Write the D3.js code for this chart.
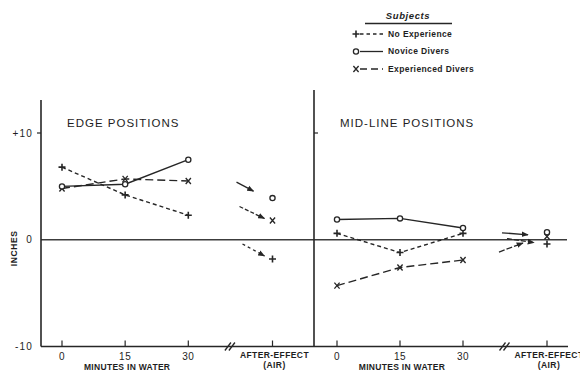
<!DOCTYPE html>
<html>
<head>
<meta charset="utf-8">
<script src="https://cdn.jsdelivr.net/npm/d3@7"></script>
<style>
  html, body { margin: 0; padding: 0; background: #fff; }
  svg { display: block; }
  text { font-family: "Liberation Sans", Arial, sans-serif; fill: #1e1e1e; }
</style>
</head>
<body>
<svg id="chart" width="580" height="373"></svg>
<script>
// Time points (minutes in water); the after-effect reading sits past a broken axis
const minutes = [0, 15, 30];
const afterEffectPos = 50;
const breakPos = 40;

// Edge positions (inches)
const edgeNoExperience  = [6.8, 4.2, 2.3];
const edgeNovice        = [5.0, 5.2, 7.5];
const edgeExperienced   = [4.8, 5.7, 5.5];
const edgeAfter         = { none: -1.8, novice: 3.9, experienced: 1.8 };

// Mid-line positions (inches)
const midNoExperience   = [0.6, -1.2, 0.6];
const midNovice         = [1.9, 2.0, 1.1];
const midExperienced    = [-4.3, -2.6, -1.9];
const midAfter          = { none: -0.4, novice: 0.7, experienced: 0.3 };

const yTicks = [-10, 0, 10];
const yTickLabels = ["-10", "0", "+10"];
const legendLabels = ["No Experience", "Novice Divers", "Experienced Divers"];

const svg = d3.select("#chart");
const ink = "#262626";

const y = d3.scaleLinear().domain([-10, 10]).range([346.5, 133]);

const panels = [
  { title: "EDGE POSITIONS", titleX: 67, axisX: 41, axisTop: 100,
    x: d3.scaleLinear().domain([0, afterEffectPos]).range([62, 272.5]),
    series: { none: edgeNoExperience, novice: edgeNovice, experienced: edgeExperienced },
    after: edgeAfter,
    arrows: [ { key: "novice", dash: null, d: [-36, -16, -19, -7] },
              { key: "experienced", dash: "4,2", d: [-33, -14, -8, -2] },
              { key: "none", dash: "3,3", d: [-30, -15, -8, -3] } ] },
  { title: "MID-LINE POSITIONS", titleX: 340, axisX: 314, axisTop: 90,
    x: d3.scaleLinear().domain([0, afterEffectPos]).range([337, 547]),
    series: { none: midNoExperience, novice: midNovice, experienced: midExperienced },
    after: midAfter,
    arrows: [ { key: "novice", dash: null, d: [-45, 0.5, -19, 2.5] },
              { key: "experienced", dash: "5,2", d: [-40, 2, -13, 6] },
              { key: "none", dash: "6,2", d: [-48, 8, -24, -1] } ] }
];

const styles = {
  none:        { dash: "4,3", marker: "plus" },
  novice:      { dash: null,  marker: "circle" },
  experienced: { dash: "8,4", marker: "cross" }
};

svg.append("defs").append("marker")
  .attr("id", "arrowhead").attr("viewBox", "0 0 10 10")
  .attr("refX", 9).attr("refY", 5)
  .attr("markerWidth", 7).attr("markerHeight", 7)
  .attr("markerUnits", "userSpaceOnUse")
  .attr("orient", "auto")
  .append("path").attr("d", "M0,1 L10,5 L0,9 Z").attr("fill", ink);

function drawMarker(g, type, cx, cy) {
  if (type === "plus") {
    g.append("path").attr("d", `M${cx - 3.5},${cy} H${cx + 3.5} M${cx},${cy - 3.5} V${cy + 3.5}`)
      .attr("stroke", ink).attr("stroke-width", 1.6).attr("fill", "none");
  } else if (type === "circle") {
    g.append("circle").attr("cx", cx).attr("cy", cy).attr("r", 2.6)
      .attr("stroke", ink).attr("stroke-width", 1.3).attr("fill", "#fff");
  } else {
    g.append("path").attr("d", `M${cx - 2.6},${cy - 3} L${cx + 2.6},${cy + 3} M${cx + 2.6},${cy - 3} L${cx - 2.6},${cy + 3}`)
      .attr("stroke", ink).attr("stroke-width", 1.3).attr("fill", "none");
  }
}

// Shared horizontal axis and zero line across both panels
svg.append("line").attr("x1", 41).attr("x2", 568).attr("y1", y(-10)).attr("y2", y(-10))
  .attr("stroke", ink).attr("stroke-width", 1.6);
svg.append("line").attr("x1", 41).attr("x2", 567).attr("y1", y(0)).attr("y2", y(0))
  .attr("stroke", "#3c3c3c").attr("stroke-width", 1.3);

// Y axis labels (left side only)
const yAxisG = svg.append("g");
yTicks.forEach((t, i) => {
  yAxisG.append("text").attr("x", 33).attr("y", y(t)).attr("dy", "0.36em")
    .attr("text-anchor", "end").attr("font-size", 10).attr("letter-spacing", 1.2)
    .text(yTickLabels[i]);
});
svg.append("text").attr("transform", `translate(17,${y(-0.8)}) rotate(-90)`)
  .attr("text-anchor", "middle").attr("font-size", 8.5).attr("font-weight", "bold")
  .attr("letter-spacing", 0.6).text("INCHES");

panels.forEach((p, pi) => {
  const g = svg.append("g");
  const x = p.x;

  // vertical axis with a tick at +10
  g.append("line").attr("x1", p.axisX).attr("x2", p.axisX).attr("y1", p.axisTop).attr("y2", y(-10))
    .attr("stroke", ink).attr("stroke-width", 1.6);
  if (pi === 0) {
    g.append("line").attr("x1", p.axisX - 4).attr("x2", p.axisX).attr("y1", y(10)).attr("y2", y(10))
      .attr("stroke", ink).attr("stroke-width", 1.2);
  } else {
    g.append("line").attr("x1", p.axisX).attr("x2", p.axisX + 4).attr("y1", y(10)).attr("y2", y(10))
      .attr("stroke", ink).attr("stroke-width", 1.2);
  }

  // x ticks
  minutes.concat([afterEffectPos]).forEach(m => {
    g.append("line").attr("x1", x(m)).attr("x2", x(m)).attr("y1", y(-10) - 6).attr("y2", y(-10))
      .attr("stroke", ink).attr("stroke-width", 1.2);
  });
  minutes.forEach(m => {
    g.append("text").attr("x", x(m)).attr("y", 360).attr("text-anchor", "middle")
      .attr("font-size", 10).attr("letter-spacing", 0.5).text(m);
  });
  g.append("text").attr("x", x(15) + 2).attr("y", 370).attr("text-anchor", "middle")
    .attr("font-size", 8.5).attr("font-weight", "bold").attr("letter-spacing", 0.3)
    .text("MINUTES IN WATER");
  g.append("text").attr("x", x(afterEffectPos) + 2).attr("y", 358).attr("text-anchor", "middle")
    .attr("font-size", 8.5).attr("font-weight", "bold").attr("letter-spacing", 0.4)
    .text("AFTER-EFFECT");
  g.append("text").attr("x", x(afterEffectPos) + 2).attr("y", 368).attr("text-anchor", "middle")
    .attr("font-size", 8.5).attr("font-weight", "bold").attr("letter-spacing", 0.4)
    .text("(AIR)");

  // axis break marks
  const bx = x(breakPos);
  [-2.5, 1.5].forEach(off => {
    g.append("line").attr("x1", bx + off - 3).attr("y1", y(-10) + 4)
      .attr("x2", bx + off + 3).attr("y2", y(-10) - 4)
      .attr("stroke", ink).attr("stroke-width", 1.3);
  });

  // panel title
  g.append("text").attr("x", p.titleX).attr("y", 127).attr("font-size", 11.5)
    .attr("letter-spacing", 1.0).attr("fill", "#333").text(p.title);

  // series lines and markers
  ["none", "experienced", "novice"].forEach(key => {
    const vals = p.series[key];
    const pts = minutes.map((m, i) => [x(m), y(vals[i])]);
    g.append("path").attr("d", d3.line()(pts))
      .attr("fill", "none").attr("stroke", ink).attr("stroke-width", 1.4)
      .attr("stroke-dasharray", styles[key].dash);
    pts.forEach(pt => drawMarker(g, styles[key].marker, pt[0], pt[1]));
    drawMarker(g, styles[key].marker, x(afterEffectPos), y(p.after[key]));
  });

  // arrows leading to the after-effect readings
  p.arrows.forEach(a => {
    const tx = x(afterEffectPos), ty = y(p.after[a.key]);
    g.append("line")
      .attr("x1", tx + a.d[0]).attr("y1", ty + a.d[1])
      .attr("x2", tx + a.d[2]).attr("y2", ty + a.d[3])
      .attr("stroke", ink).attr("stroke-width", 1.3)
      .attr("stroke-dasharray", a.dash)
      .attr("marker-end", "url(#arrowhead)");
  });
});

// Legend
const lg = svg.append("g");
lg.append("text").attr("x", 408).attr("y", 19).attr("text-anchor", "middle")
  .attr("font-size", 9.5).attr("font-weight", "bold").attr("font-style", "italic")
  .attr("letter-spacing", 0.6).text("Subjects");
lg.append("line").attr("x1", 365).attr("x2", 452).attr("y1", 23.5).attr("y2", 23.5)
  .attr("stroke", ink).attr("stroke-width", 1.3);
const legendKeys = ["none", "novice", "experienced"];
legendKeys.forEach((key, i) => {
  const ly = 34 + i * 17.5;
  drawMarker(lg, styles[key].marker, 356, ly);
  lg.append("line").attr("x1", 360).attr("x2", 383).attr("y1", ly).attr("y2", ly)
    .attr("stroke", ink).attr("stroke-width", 1.3)
    .attr("stroke-dasharray", key === "none" ? "3.5,3" : key === "experienced" ? "7,4" : null);
  lg.append("text").attr("x", 388).attr("y", ly).attr("dy", "0.35em")
    .attr("font-size", 8.5).attr("font-weight", "bold").attr("letter-spacing", 0.4)
    .text(legendLabels[i]);
});
</script>
</body>
</html>
